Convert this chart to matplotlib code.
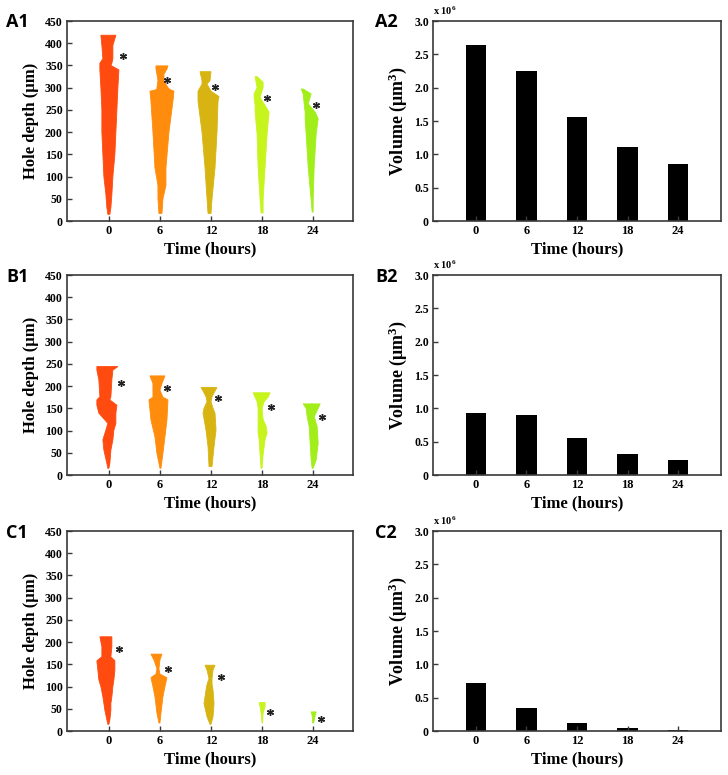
import matplotlib
matplotlib.use("Agg")
import matplotlib.pyplot as plt
import numpy as np

# ---------------- data ----------------
times = [0, 6, 12, 18, 24]
time_labels = ["0", "6", "12", "18", "24"]
hole_colors = ["#FF4A10", "#FF8C0C", "#D8B412", "#C8F41E", "#A2EE1A"]

# Volumes (x 10^6 um^3)
volume_A = [2.64, 2.25, 1.56, 1.11, 0.86]
volume_B = [0.93, 0.90, 0.55, 0.32, 0.22]
volume_C = [0.72, 0.35, 0.12, 0.04, 0.02]

# Hole profiles: rows of (depth um, left edge, right edge) ; edges in px-width units
profiles_A = [
    [(418, -8, 7), (395, -7, 4), (365, -6, 4), (355, -9, 3), (350, -9, 2), (340, -9, 10),
     (300, -8, 9), (250, -7, 8), (200, -7, 7), (150, -6, 6), (100, -5, 4), (60, -3, 3),
     (30, -2, 2), (15, -1, 1)],
    [(349, -4, 8), (342, -4, 7), (330, -3, 4), (316, -2, 4), (300, -3, 8), (296, -3, 10),
     (292, -10, 14), (270, -9, 13), (200, -7, 9), (120, -5, 6), (80, -2, 6), (50, -2, 3),
     (17, -1, 2)],
    [(336, -11, 0), (316, -9, -1), (308, -9, -4), (292, -13, 0), (280, -13, 8), (270, -13, 7),
     (200, -9, 6), (120, -6, 4), (50, -4, 1), (17, -3, 0)],
    [(325, -7, -5), (312, -6, 1), (300, -5, 1), (286, -8, -1), (278, -8, -2), (260, -7, 3),
     (245, -7, 7), (196, -5, 5), (122, -4, 3), (47, -2, 1), (18, -1, 1)],
    [(297, -12, -10), (286, -10, -2), (264, -9, -5), (245, -8, 2), (230, -8, 5), (196, -7, 3),
     (122, -5, 1), (47, -2, 0), (20, -1, 0)],
]
profiles_B = [
    [(244, -12, 9), (236, -12, 4), (214, -10, 3), (176, -9, 2), (169, -12, 1), (157, -12, 8),
     (139, -10, 7), (124, -4, 7), (116, -1, 7), (101, -3, 5), (79, -6, 4), (56, -5, 2),
     (26, -2, 1), (15, -1, 0)],
    [(223, -10, 5), (206, -7, 2), (191, -7, 0), (175, -7, 3), (169, -11, 8), (124, -9, 7),
     (86, -5, 5), (49, -3, 3), (15, 0, 1)],
    [(197, -10, 6), (185, -7, 3), (176, -5, 1), (165, -4, 0), (150, -7, 2), (139, -8, 4),
     (101, -5, 5), (64, -3, 3), (19, -2, 1)],
    [(185, -9, 8), (175, -7, 6), (165, -5, 2), (150, -4, 0), (125, -4, 1), (110, -4, 4),
     (95, -4, 5), (80, -3, 3), (45, -2, 1), (15, -1, 0)],
    [(160, -10, 7), (150, -7, 5), (131, -6, 1), (109, -4, 4), (71, -3, 5), (34, -2, 3),
     (15, -1, 0)],
]
profiles_C = [
    [(212, -9, 3), (190, -7, 3), (167, -7, 2), (158, -12, 6), (137, -11, 6), (115, -10, 5),
     (100, -8, 4), (77, -6, 3), (62, -5, 2), (47, -4, 2), (25, -2, 1), (15, -1, 0)],
    [(173, -9, 2), (160, -6, 0), (140, -3, -1), (128, -4, 0), (120, -9, 7), (100, -7, 5),
     (77, -5, 3), (40, -3, 1), (18, -1, 0)],
    [(148, -6, 4), (137, -4, 2), (118, -2, 1), (105, -4, 1), (92, -5, 2), (62, -7, 3),
     (32, -4, 2), (15, -1, 0)],
    [(64, -3, 3), (55, -2, 3), (40, -1, 1), (18, 0, 0.5)],
    [(43, -2, 3), (35, -1, 2), (18, -0.5, 0.5)],
]

# Asterisk marks: (x offset in px-width units, depth um)
stars_A = [(14, 372), (7, 317), (4, 302), (5, 277), (2.5, 260)]
stars_B = [(12, 208), (7, 196), (7, 174), (9, 154), (9, 131)]
stars_C = [(10, 184), (8, 139), (10, 122), (8, 43), (8, 26)]

panel_rows = [("A", profiles_A, stars_A, volume_A),
              ("B", profiles_B, stars_B, volume_B),
              ("C", profiles_C, stars_C, volume_C)]

# ---------------- style ----------------
SERIF = "Liberation Serif"
plt.rcParams["mathtext.fontset"] = "custom"
plt.rcParams["mathtext.rm"] = "Liberation Serif:bold"
plt.rcParams["mathtext.bf"] = "Liberation Serif:bold"
plt.rcParams["mathtext.it"] = "Liberation Serif:bold"
PX_PER_CAT = 51.0
spine_col = "#3a3a3a"

fig = plt.figure(figsize=(7.28, 7.75), dpi=100)

row_tops_px = [20, 275, 531]
row_bottoms = [1 - 221 / 775, 1 - 475 / 775, 1 - 731 / 775]
row_h = 200 / 775
left1, w1 = 67 / 728, 286 / 728
left2, w2 = 433 / 728, 288 / 728


def style_axes(ax):
    for s in ax.spines.values():
        s.set_color(spine_col)
        s.set_linewidth(1.2)
    ax.tick_params(direction="in", length=3.5, width=1.0, color=spine_col, pad=3)
    for lab in ax.get_xticklabels():
        lab.set_fontfamily(SERIF)
        lab.set_fontweight("bold")
        lab.set_fontsize(9)
    for lab in ax.get_yticklabels():
        lab.set_fontfamily(SERIF)
        lab.set_fontweight("bold")
        lab.set_fontsize(8.5)


for r, (letter, profiles, stars, vols) in enumerate(panel_rows):
    b = row_bottoms[r]
    # ---- left: hole profiles ----
    ax1 = fig.add_axes([left1, b, w1, row_h])
    for i, prof in enumerate(profiles):
        depth = np.array([p[0] for p in prof], dtype=float)
        lft = np.array([p[1] for p in prof], dtype=float) / PX_PER_CAT
        rgt = np.array([p[2] for p in prof], dtype=float) / PX_PER_CAT
        xs = np.concatenate([i + lft, (i + rgt)[::-1]])
        ys = np.concatenate([depth, depth[::-1]])
        ax1.fill(xs, ys, color=hole_colors[i], lw=0.6, ec=hole_colors[i])
        sx, sy = stars[i]
        ax1.plot(i + sx / PX_PER_CAT, sy, marker=(6, 2, 0), ms=5, mew=1.0,
                 color="#222222", ls="none")
    ax1.set_xlim(-0.82, 4.78)
    ax1.set_ylim(0, 450)
    ax1.set_yticks(np.arange(0, 451, 50))
    ax1.set_xticks(range(len(times)))
    ax1.set_xticklabels(time_labels)
    style_axes(ax1)
    ax1.set_ylabel("Hole depth (\u03bcm)", fontfamily=SERIF, fontweight="bold",
                   fontsize=12, labelpad=4)
    ax1.set_xlabel("Time (hours)", fontfamily=SERIF, fontweight="bold",
                   fontsize=12, labelpad=3)
    fig.text(6 / 728, 1 - (row_tops_px[r] - 7) / 775,
             letter + "1", fontfamily="Open Sans", fontweight="bold", fontsize=13,
             ha="left", va="top")

    # ---- right: volumes ----
    ax2 = fig.add_axes([left2, b, w2, row_h])
    ax2.bar(range(len(times)), vols, width=0.4, color="black")
    ax2.set_xlim(-0.85, 4.85)
    ax2.set_ylim(0, 3.0)
    ax2.set_yticks([0, 0.5, 1.0, 1.5, 2.0, 2.5, 3.0])
    ax2.set_yticklabels(["0", "0.5", "1.0", "1.5", "2.0", "2.5", "3.0"])
    ax2.set_xticks(range(len(times)))
    ax2.set_xticklabels(time_labels)
    style_axes(ax2)
    ax2.set_ylabel("Volume (\u03bcm$^{\\mathbf{3}}$)", fontfamily=SERIF, fontweight="bold",
                   fontsize=13, labelpad=4)
    ax2.set_xlabel("Time (hours)", fontfamily=SERIF, fontweight="bold",
                   fontsize=12, labelpad=3)
    ax2.text(0.0, 1.02, "x 10$^6$", transform=ax2.transAxes, fontfamily=SERIF,
             fontweight="bold", fontsize=7.5, ha="left", va="bottom")
    fig.text(375 / 728, 1 - (row_tops_px[r] - 7) / 775,
             letter + "2", fontfamily="Open Sans", fontweight="bold", fontsize=13,
             ha="left", va="top")

fig.savefig("out.png", dpi=100)
